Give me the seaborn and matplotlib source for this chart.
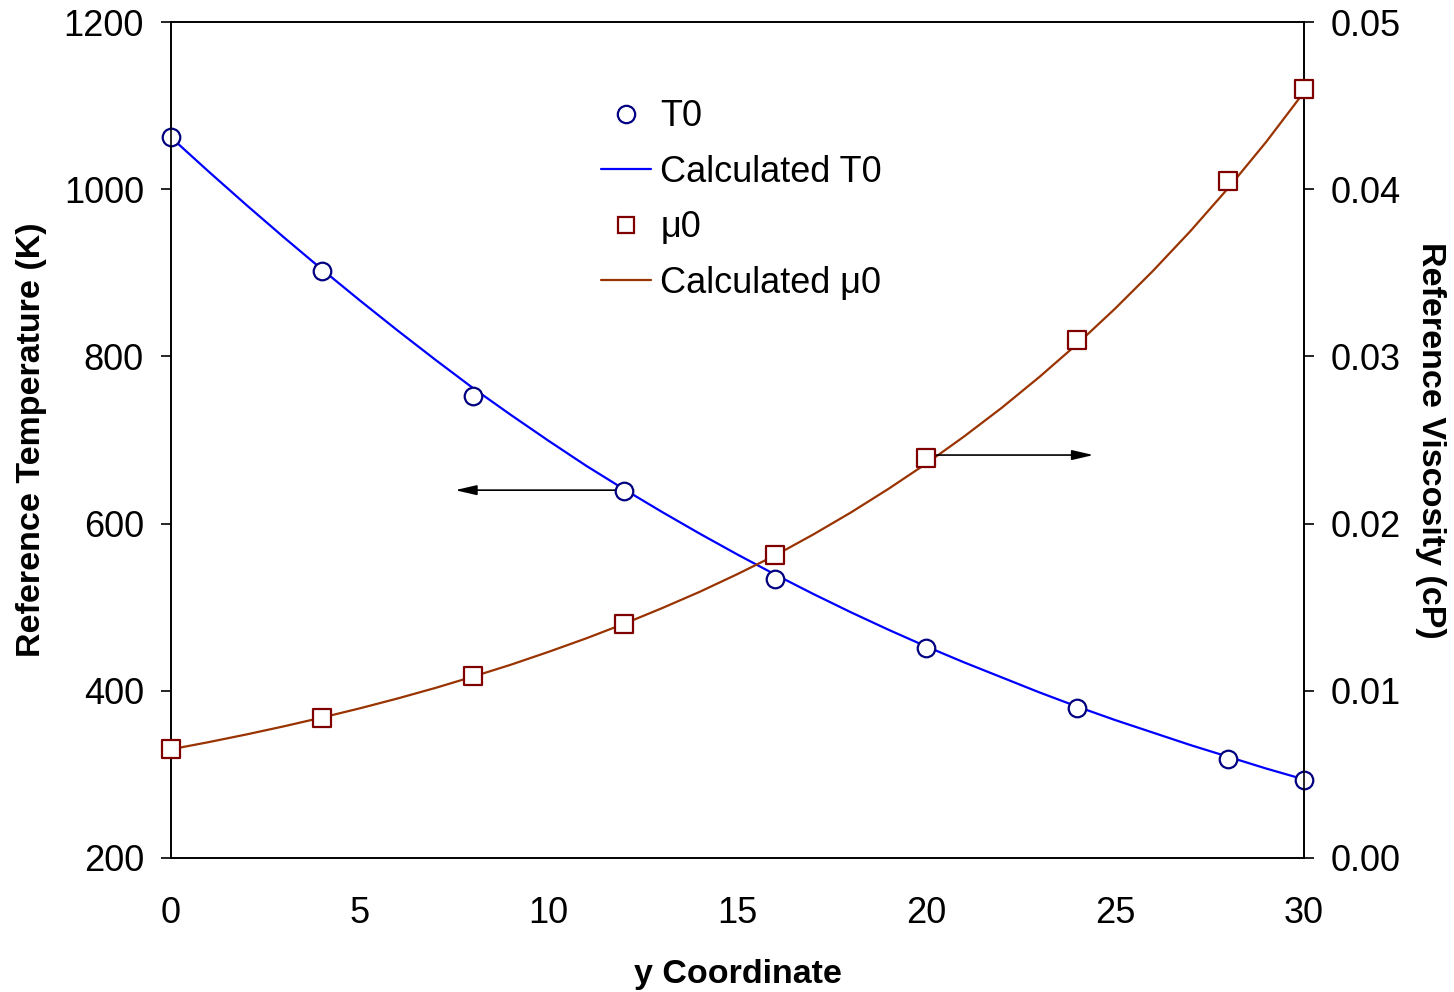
import numpy as np
import pandas as pd
import matplotlib
matplotlib.use("Agg")
import matplotlib.pyplot as plt
from matplotlib.lines import Line2D
import seaborn as sns

sns.set_style("white")
plt.rcParams["font.family"] = ["Liberation Sans", "DejaVu Sans"]
plt.rcParams["text.color"] = "black"
plt.rcParams["axes.labelcolor"] = "black"

# ── data ──────────────────────────────────────────────────
y_meas = [0, 4, 8, 12, 16, 20, 24, 28, 30]
t0_meas = [1062, 902, 753, 639, 534, 451, 379, 318, 293]
mu0_meas = [0.0065, 0.0084, 0.0109, 0.0140, 0.0181, 0.0239, 0.0310, 0.0405, 0.0460]

y_calc = list(range(0, 31))
t0_calc = [1062, 1021, 981, 942, 904, 867, 831, 796, 762, 730, 699, 669, 641,
           614, 588, 563, 539, 516, 494, 473, 453, 434, 416, 398, 381, 365,
           350, 335, 321, 307, 294]
mu0_calc = [0.00650, 0.00693, 0.00739, 0.00788, 0.00840, 0.00895, 0.00954,
            0.01017, 0.01085, 0.01156, 0.01233, 0.01314, 0.01401, 0.01494,
            0.01592, 0.01698, 0.01810, 0.01934, 0.02066, 0.02208, 0.02359,
            0.02521, 0.02693, 0.02878, 0.03075, 0.03286, 0.03511, 0.03751,
            0.04008, 0.04283, 0.04580]

x_ticks = [0, 5, 10, 15, 20, 25, 30]
t_ticks = [200, 400, 600, 800, 1000, 1200]
mu_ticks = [0.00, 0.01, 0.02, 0.03, 0.04, 0.05]

meas = pd.DataFrame({"y": y_meas, "t0": t0_meas, "mu0": mu0_meas})
calc = pd.DataFrame({"y": y_calc, "t0": t0_calc, "mu0": mu0_calc})

c_t_line, c_t_mark = "#0000FF", "#000080"
c_mu_line, c_mu_mark = "#993300", "#800000"
fs = 26
fs_lab = 24.5

fig = plt.figure(figsize=(14.54, 9.92), dpi=100)
ax = fig.add_axes([0.1176, 0.1351, 0.7792, 0.8427])
ax2 = ax.twinx()

sns.lineplot(data=calc, x="y", y="t0", ax=ax, color=c_t_line, linewidth=1.6)
sns.scatterplot(data=meas, x="y", y="t0", ax=ax, marker="o", s=160,
                facecolor="white", edgecolor=c_t_mark, linewidth=1.6, zorder=5, clip_on=False)
sns.lineplot(data=calc, x="y", y="mu0", ax=ax2, color=c_mu_line, linewidth=1.6)
sns.scatterplot(data=meas, x="y", y="mu0", ax=ax2, marker="s", s=150,
                facecolor="white", edgecolor=c_mu_mark, linewidth=1.6, zorder=5, clip_on=False)

ax.set_xlim(0, 30)
ax.set_ylim(200, 1200)
ax2.set_ylim(0, 0.05)
ax.set_xticks(x_ticks)
ax.set_yticks(t_ticks)
ax2.set_yticks(mu_ticks)
ax2.set_yticklabels([f"{v:.2f}" for v in mu_ticks])

for a in (ax, ax2):
    for s in a.spines.values():
        s.set_color("black")
        s.set_linewidth(1.2)
    a.tick_params(direction="out", length=7.5, width=1.2, labelsize=fs, colors="black", pad=12)
ax.tick_params(axis="x", pad=20)

ax.set_xlabel("y Coordinate", fontsize=fs_lab, fontweight="bold", labelpad=20)
ax.set_ylabel("Reference Temperature (K)", fontsize=fs_lab, fontweight="bold", labelpad=12)
ax2.set_ylabel("Reference Viscosity (cP)", fontsize=fs_lab, fontweight="bold",
               rotation=270, labelpad=32)

arrow = dict(arrowstyle="-|>,head_length=1.3,head_width=0.3", color="black", lw=1.2)
ax.annotate("", xy=(7.45, 640), xytext=(12, 640), arrowprops=arrow)
ax2.annotate("", xy=(24.5, 0.0241), xytext=(20, 0.0241), arrowprops=arrow)

handles = [
    Line2D([], [], linestyle="", marker="o", markersize=12.5, markerfacecolor="white",
           markeredgecolor=c_t_mark, markeredgewidth=1.6),
    Line2D([], [], color=c_t_line, linewidth=1.6),
    Line2D([], [], linestyle="", marker="s", markersize=12, markerfacecolor="white",
           markeredgecolor=c_mu_mark, markeredgewidth=1.6),
    Line2D([], [], color=c_mu_line, linewidth=1.6),
]
labels = ["T0", "Calculated T0", "μ0", "Calculated μ0"]
ax2.legend(handles, labels, loc="upper left", bbox_to_anchor=(0.4133, 0.9),
           bbox_transform=fig.transFigure, frameon=False, fontsize=fs,
           handlelength=1.39, handletextpad=0.25, labelspacing=0.57,
           borderpad=0, borderaxespad=0)

fig.savefig("out.png", dpi=100)
